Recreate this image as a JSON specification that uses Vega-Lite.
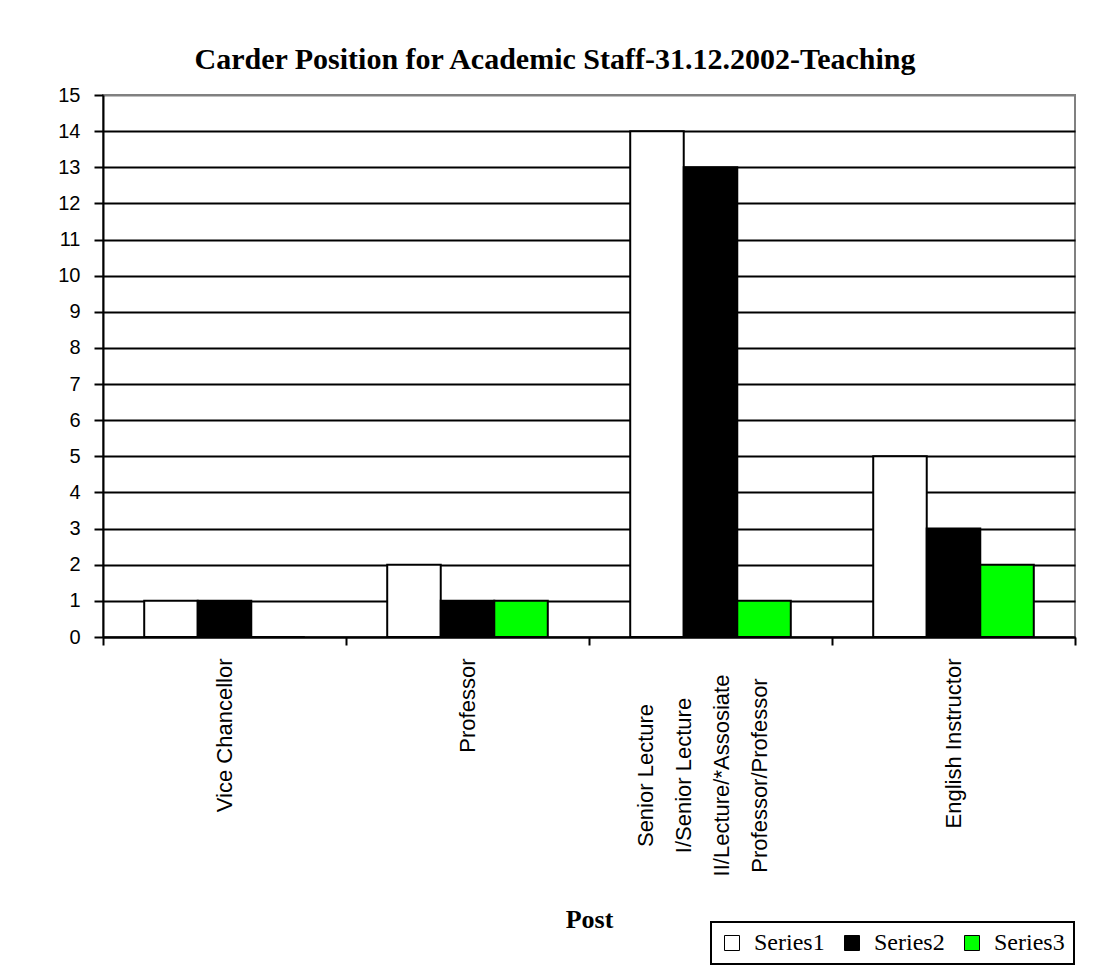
{
  "$schema": "https://vega.github.io/schema/vega-lite/v6.json",
  "autosize": {"type": "none"},
  "width": 972,
  "height": 542,
  "padding": {"left": 103, "top": 95, "right": 28, "bottom": 342},
  "background": "white",
  "title": {
    "text": "Carder Position for Academic Staff-31.12.2002-Teaching",
    "font": "Liberation Serif",
    "fontSize": 30,
    "fontWeight": "bold",
    "color": "black",
    "anchor": "middle",
    "dx": -34,
    "dy": -6
  },
  "data": {
    "values": [
      {"post": "Vice Chancellor", "series": "Series1", "count": 1},
      {"post": "Vice Chancellor", "series": "Series2", "count": 1},
      {"post": "Vice Chancellor", "series": "Series3", "count": 0},
      {"post": "Professor", "series": "Series1", "count": 2},
      {"post": "Professor", "series": "Series2", "count": 1},
      {"post": "Professor", "series": "Series3", "count": 1},
      {"post": "Senior Lecture I/Senior Lecture II/Lecture/*Assosiate Professor/Professor", "series": "Series1", "count": 14},
      {"post": "Senior Lecture I/Senior Lecture II/Lecture/*Assosiate Professor/Professor", "series": "Series2", "count": 13},
      {"post": "Senior Lecture I/Senior Lecture II/Lecture/*Assosiate Professor/Professor", "series": "Series3", "count": 1},
      {"post": "English Instructor", "series": "Series1", "count": 5},
      {"post": "English Instructor", "series": "Series2", "count": 3},
      {"post": "English Instructor", "series": "Series3", "count": 2}
    ]
  },
  "layer": [
    {
      "mark": {"type": "bar", "stroke": "black", "strokeWidth": 2},
      "encoding": {
        "x": {
          "field": "post",
          "type": "nominal",
          "sort": null,
          "scale": {"paddingInner": 0, "paddingOuter": 0},
          "axis": {
            "orient": "bottom",
            "title": "Post",
            "titleFont": "Liberation Serif",
            "titleFontSize": 26,
            "titleFontWeight": "bold",
            "titleColor": "black",
            "titlePadding": 79,
            "labelAngle": -90,
            "labelFont": "Liberation Sans",
            "labelFontSize": 22,
            "labelColor": "black",
            "labelLimit": 400,
            "labelExpr": "indexof(datum.label, 'Senior Lecture I') == 0 ? '' : datum.label",
            "labelAlign": "right",
            "labelBaseline": "middle",
            "labelPadding": 13,
            "tickBand": "extent",
            "tickSize": 8,
            "tickWidth": 2,
            "tickColor": "black",
            "domainColor": "black",
            "domainWidth": 2,
            "grid": false
          }
        },
        "xOffset": {
          "field": "series",
          "type": "nominal",
          "scale": {"paddingInner": 0, "paddingOuter": 0.77}
        },
        "y": {
          "field": "count",
          "type": "quantitative",
          "scale": {"domain": [0, 15], "nice": false},
          "axis": {
            "title": null,
            "values": [0, 1, 2, 3, 4, 5, 6, 7, 8, 9, 10, 11, 12, 13, 14, 15],
            "labelFont": "Liberation Sans",
            "labelFontSize": 20,
            "labelColor": "black",
            "labelPadding": 14,
            "tickSize": 9,
            "tickWidth": 2,
            "tickColor": "black",
            "domainColor": "black",
            "domainWidth": 2,
            "grid": true,
            "gridColor": {"condition": {"test": "datum.value == 15", "value": "#808080"}, "value": "black"},
            "gridWidth": 2
          }
        },
        "fill": {
          "field": "series",
          "type": "nominal",
          "scale": {"domain": ["Series1", "Series2", "Series3"], "range": ["#ffffff", "#000000", "#00ff00"]},
          "legend": {
            "title": null,
            "orient": "none",
            "legendX": 608,
            "legendY": 827,
            "direction": "horizontal",
            "symbolType": "square",
            "symbolSize": 225,
            "symbolStrokeColor": "black",
            "symbolStrokeWidth": 1,
            "symbolOpacity": 1,
            "labelFont": "Liberation Serif",
            "labelFontSize": 24,
            "labelColor": "black",
            "labelOffset": 10,
            "columnPadding": 15,
            "strokeColor": "black",
            "padding": 9,
            "fillColor": "white",
            "encode": {"legend": {"update": {"strokeWidth": {"value": 2}}}}
          }
        }
      }
    },
    {
      "transform": [{"filter": "datum.count < 0"}],
      "mark": {"type": "bar", "opacity": 0},
      "encoding": {
        "x": {
          "field": "post",
          "type": "nominal",
          "sort": null,
          "axis": {
            "orient": "bottom",
            "title": null,
            "domain": false,
            "ticks": false,
            "grid": false,
            "labelAngle": -90,
            "labelFont": "Liberation Sans",
            "labelFontSize": 22,
            "labelColor": "black",
            "labelLimit": 400,
            "labelLineHeight": 38,
            "labelOffset": -65,
            "labelExpr": "indexof(datum.label, 'Senior Lecture I') == 0 ? ['Senior Lecture', 'I/Senior Lecture', 'II/Lecture/*Assosiate', 'Professor/Professor'] : ''",
            "labelAlign": "center",
            "labelBaseline": "middle",
            "labelPadding": 138
          }
        },
        "y": {"field": "count", "type": "quantitative", "axis": null}
      }
    }
  ],
  "resolve": {"axis": {"x": "independent", "y": "independent"}},
  "config": {
    "view": {"stroke": "#808080", "strokeWidth": 2},
    "axis": {"zindex": 0}
  }
}
